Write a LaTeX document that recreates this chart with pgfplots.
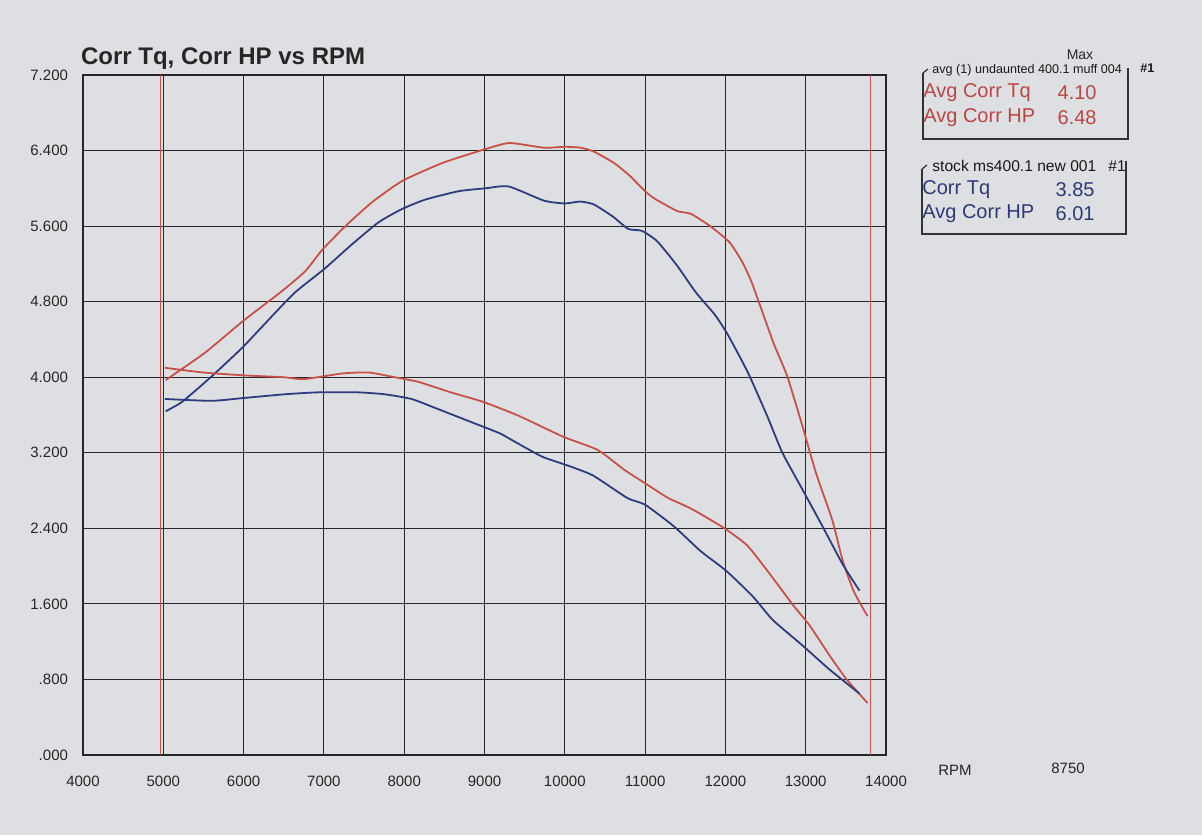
\documentclass[border=0pt]{standalone}
\usepackage{pgfplots}
\pgfplotsset{compat=1.18}
\usepackage{pgfplotstable}
\usepackage{fontspec}
\setmainfont{Liberation Sans}
\definecolor{bg}{RGB}{222,223,226}
\definecolor{hpred}{RGB}{200,80,74}
\definecolor{hpblue}{RGB}{46,60,125}
\definecolor{txtred}{RGB}{185,70,70}
\definecolor{txtblue}{RGB}{45,58,120}

\pgfplotstableread{
rpm val
5030 3.97
5520 4.26
6000 4.60
6460 4.90
6765 5.12
6980 5.35
7280 5.61
7610 5.86
7980 6.08
8480 6.27
8990 6.41
9310 6.48
9740 6.43
10000 6.44
10200 6.43
10360 6.39
10610 6.27
10800 6.14
11000 5.97
11120 5.89
11400 5.76
11570 5.73
11810 5.60
12050 5.43
12210 5.22
12320 5.02
12440 4.74
12600 4.36
12770 4.01
12960 3.48
13130 2.98
13330 2.49
13460 2.06
13600 1.73
13770 1.47
}\redhp

\pgfplotstableread{
rpm val
5030 3.64
5235 3.74
5590 4.00
5980 4.31
6280 4.58
6630 4.89
7010 5.15
7340 5.40
7680 5.64
7970 5.78
8260 5.88
8680 5.97
9010 6.00
9300 6.02
9740 5.87
10000 5.84
10190 5.86
10360 5.83
10600 5.70
10790 5.57
10960 5.55
11150 5.44
11400 5.18
11630 4.90
11870 4.66
12030 4.45
12280 4.05
12520 3.59
12710 3.20
12960 2.81
13210 2.42
13460 2.02
13670 1.74
}\bluehp

\pgfplotstableread{
rpm val
5020 4.10
5500 4.05
6000 4.02
6500 4.00
6750 3.98
7230 4.04
7560 4.05
7880 4.00
8180 3.95
8580 3.84
8980 3.74
9430 3.59
9980 3.37
10410 3.23
10740 3.02
11050 2.85
11290 2.72
11570 2.61
11970 2.41
12270 2.22
12550 1.92
12840 1.59
13050 1.37
13300 1.05
13510 0.80
13770 0.55
}\redtq

\pgfplotstableread{
rpm val
5020 3.77
5600 3.75
6000 3.78
6520 3.82
6930 3.84
7420 3.84
7750 3.82
8090 3.77
8370 3.68
8790 3.54
9180 3.41
9330 3.34
9715 3.16
10020 3.07
10350 2.96
10780 2.72
11000 2.65
11360 2.42
11690 2.16
12010 1.95
12340 1.68
12590 1.43
12960 1.16
13290 0.91
13670 0.65
}\bluetq

\begin{document}
\begin{tikzpicture}
\fill[bg] (0,0) rectangle (601pt,417.5pt);
\path[use as bounding box] (0,0) rectangle (601pt,417.5pt);
\begin{axis}[
  at={(41.5pt,40pt)}, anchor=south west,
  width=401.5pt, height=340pt, scale only axis,
  xmin=4000, xmax=14000, ymin=0, ymax=7.2,
  scaled x ticks=false, scaled y ticks=false,
  xtick={4000,5000,6000,7000,8000,9000,10000,11000,12000,13000,14000},
  xticklabels={4000,5000,6000,7000,8000,9000,10000,11000,12000,13000,14000},
  ytick={0,0.8,1.6,2.4,3.2,4.0,4.8,5.6,6.4,7.2},
  yticklabels={.000,.800,1.600,2.400,3.200,4.000,4.800,5.600,6.400,7.200},
  grid=major,
  major grid style={black!85, line width=0.5pt},
  axis line style={black!85, line width=0.7pt},
  major tick length=0pt,
  tick label style={font=\fontsize{7.5}{9}\selectfont, text=black!85},
  xticklabel style={yshift=-7pt},
  yticklabel style={xshift=-4pt},
  /pgf/number format/assume math mode=true,
  clip=false,
]
\addplot[hpred, line width=0.4pt] coordinates {(4960,0) (4960,7.2)};
\addplot[hpred, line width=0.4pt] coordinates {(13800,0) (13800,7.2)};
\addplot[hpred, line width=0.9pt, smooth, tension=0.35] table[x=rpm,y=val] {\redhp};
\addplot[hpblue, line width=0.9pt, smooth, tension=0.35] table[x=rpm,y=val] {\bluehp};
\addplot[hpred, line width=0.9pt, smooth, tension=0.35] table[x=rpm,y=val] {\redtq};
\addplot[hpblue, line width=0.9pt, smooth, tension=0.35] table[x=rpm,y=val] {\bluetq};
\end{axis}
% title
\node[anchor=west, font=\bfseries\fontsize{12}{14}\selectfont, text=black!85] at (37pt,388pt) {Corr Tq, Corr HP vs RPM};
% legend 1
\node[font=\fontsize{7}{8}\selectfont, text=black!85] at (540pt,390pt) {Max};
\draw[black!80, line width=0.6pt] (461.5pt,381pt) -- (461.5pt,348pt) -- (564pt,348pt) -- (564pt,383.5pt);
\draw[black!80, line width=0.6pt] (461.5pt,381pt) -- (464pt,383pt);
\node[anchor=west, font=\fontsize{6.3}{7}\selectfont, text=black!90, inner sep=1pt] at (465pt,382.5pt) {avg (1) undaunted 400.1 muff 004};
\node[anchor=west, font=\bfseries\fontsize{6.3}{7}\selectfont, text=black!90, inner sep=1pt] at (569pt,383.5pt) {\#1};
\node[anchor=west, font=\fontsize{10}{12}\selectfont, text=txtred, inner sep=0pt] at (461.5pt,371pt) {Avg Corr Tq};
\node[anchor=east, font=\fontsize{10}{12}\selectfont, text=txtred, inner sep=0pt] at (548.5pt,371pt) {4.10};
\node[anchor=west, font=\fontsize{10}{12}\selectfont, text=txtred, inner sep=0pt] at (461.5pt,358.5pt) {Avg Corr HP};
\node[anchor=east, font=\fontsize{10}{12}\selectfont, text=txtred, inner sep=0pt] at (548.5pt,358.5pt) {6.48};
% legend 2
\draw[black!80, line width=0.6pt] (461pt,333pt) -- (461pt,300.5pt) -- (563pt,300.5pt) -- (563pt,337pt);
\draw[black!80, line width=0.6pt] (461pt,333pt) -- (463.5pt,335pt);
\node[anchor=west, font=\fontsize{7.8}{9}\selectfont, text=black!90, inner sep=1pt] at (465pt,334.5pt) {stock ms400.1 new 001};
\node[anchor=west, font=\fontsize{7.8}{9}\selectfont, text=black!90, inner sep=1pt] at (553pt,334.5pt) {\#1};
\node[anchor=west, font=\fontsize{10}{12}\selectfont, text=txtblue, inner sep=0pt] at (461pt,322.5pt) {Corr Tq};
\node[anchor=east, font=\fontsize{10}{12}\selectfont, text=txtblue, inner sep=0pt] at (547.5pt,322.5pt) {3.85};
\node[anchor=west, font=\fontsize{10}{12}\selectfont, text=txtblue, inner sep=0pt] at (461pt,310.5pt) {Avg Corr HP};
\node[anchor=east, font=\fontsize{10}{12}\selectfont, text=txtblue, inner sep=0pt] at (547.5pt,310.5pt) {6.01};
% RPM label
\node[font=\fontsize{7.5}{9}\selectfont, text=black!85] at (477.5pt,32.5pt) {RPM};
\node[font=\fontsize{7.5}{9}\selectfont, text=black!85] at (534pt,33.5pt) {8750};
\end{tikzpicture}
\end{document}
